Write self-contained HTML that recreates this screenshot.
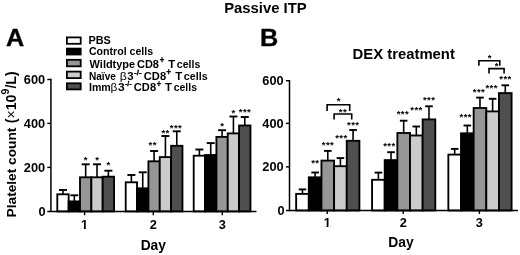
<!DOCTYPE html>
<html><head><meta charset="utf-8"><title>Passive ITP</title><style>
html,body{margin:0;padding:0;background:#fff;overflow:hidden}svg{display:block}
text{font-family:"Liberation Sans", sans-serif;fill:#000}
</style></head><body>
<svg width="520" height="255" viewBox="0 0 520 255">
<rect width="520" height="255" fill="#fff"/>
<defs><filter id="soft" x="0" y="0" width="520" height="255" filterUnits="userSpaceOnUse"><feGaussianBlur stdDeviation="0.35"/></filter></defs>
<g filter="url(#soft)">
<text transform="translate(265.40 12.80) scale(1.017 1)" font-size="14.6" font-weight="bold" text-anchor="middle">Passive ITP</text>
<text transform="translate(6.10 45.70) scale(1.03 1)" font-size="24.5" font-weight="bold" stroke="#000" stroke-width="0.35">A</text>
<text transform="translate(260.00 45.70) scale(1.03 1)" font-size="24.5" font-weight="bold" stroke="#000" stroke-width="0.35">B</text>
<text x="352.60" y="59.30" font-size="14.85" font-weight="bold">DEX treatment</text>
<rect x="66.90" y="37.40" width="13.80" height="6.40" fill="#ffffff" stroke="#000" stroke-width="1.8"/>
<rect x="66.90" y="48.60" width="13.80" height="5.90" fill="#000000" stroke="#000" stroke-width="1.8"/>
<rect x="66.90" y="59.80" width="13.80" height="6.50" fill="#969696" stroke="#000" stroke-width="1.8"/>
<rect x="66.90" y="71.60" width="13.80" height="6.50" fill="#cbcbcb" stroke="#000" stroke-width="1.8"/>
<rect x="66.90" y="83.30" width="13.80" height="6.10" fill="#505050" stroke="#000" stroke-width="1.8"/>
<text transform="translate(88.52 43.60) scale(1.056 1)" font-size="10.3" font-weight="bold">PBS</text>
<text transform="translate(88.97 55.10) scale(1.028 1)" font-size="10.3" font-weight="bold">Control cells</text>
<text transform="translate(89.60 67.60) scale(1.064 1)" font-size="10.3" font-weight="bold">Wildtype</text>
<text transform="translate(137.06 67.60) scale(1.064 1)" font-size="10.3" font-weight="bold">CD8</text>
<text transform="translate(159.86 63.05) scale(0.913 1)" font-size="8.5" font-weight="bold" stroke="#000" stroke-width="0.3">+</text>
<text transform="translate(168.30 67.60) scale(1.099 1)" font-size="10.3" font-weight="bold">T</text>
<text transform="translate(176.87 67.60) scale(1.024 1)" font-size="10.3" font-weight="bold">cells</text>
<text transform="translate(88.97 80.20) scale(0.982 1)" font-size="10.3" font-weight="bold">Naïve</text>
<text transform="translate(119.64 80.20) scale(1.183 1)" font-size="10.3">β</text>
<text transform="translate(127.32 80.20) scale(1.111 1)" font-size="10.3" font-weight="bold">3</text>
<text transform="translate(134.05 74.70) scale(1.175 1)" font-size="6.8" font-weight="bold" stroke="#000" stroke-width="0.3">-/-</text>
<text transform="translate(143.85 80.20) scale(1.079 1)" font-size="10.3" font-weight="bold">CD8</text>
<text transform="translate(166.35 75.40) scale(0.958 1)" font-size="8.5" font-weight="bold" stroke="#000" stroke-width="0.3">+</text>
<text transform="translate(175.30 80.20) scale(1.115 1)" font-size="10.3" font-weight="bold">T</text>
<text transform="translate(183.87 80.20) scale(1.037 1)" font-size="10.3" font-weight="bold">cells</text>
<text transform="translate(88.93 90.80) scale(1.035 1)" font-size="10.3" font-weight="bold">Imm</text>
<text transform="translate(110.46 90.80) scale(1.142 1)" font-size="10.3">β</text>
<text transform="translate(117.91 90.80) scale(1.167 1)" font-size="10.3" font-weight="bold">3</text>
<text transform="translate(124.88 85.50) scale(1.057 1)" font-size="6.8" font-weight="bold" stroke="#000" stroke-width="0.3">-/-</text>
<text transform="translate(133.85 90.80) scale(1.079 1)" font-size="10.3" font-weight="bold">CD8</text>
<text transform="translate(156.66 86.50) scale(0.89 1)" font-size="8.5" font-weight="bold" stroke="#000" stroke-width="0.3">+</text>
<text transform="translate(165.00 90.80) scale(1.099 1)" font-size="10.3" font-weight="bold">T</text>
<text transform="translate(173.67 90.80) scale(1.019 1)" font-size="10.3" font-weight="bold">cells</text>
<text transform="translate(15.5 217.4) rotate(-90)" font-size="13.7" font-weight="bold">Platelet count</text>
<text transform="translate(15.5 123.3) rotate(-90)" font-size="14.2" font-weight="bold">(<tspan font-weight="normal">×</tspan>10<tspan dy="-6.2" font-size="10.6">9</tspan><tspan dy="6.2">/L)</tspan></text>
<path d="M62.97 194.30V190.00" stroke="#000" stroke-width="1.6" fill="none"/><path d="M58.97 190.00H66.97" stroke="#000" stroke-width="1.9" fill="none"/>
<rect x="57.30" y="194.30" width="11.35" height="17.10" fill="#ffffff" stroke="#000" stroke-width="1.85"/>
<path d="M74.32 201.40V195.30" stroke="#000" stroke-width="1.6" fill="none"/><path d="M70.32 195.30H78.32" stroke="#000" stroke-width="1.9" fill="none"/>
<rect x="68.65" y="201.40" width="11.35" height="10.00" fill="#000000" stroke="#000" stroke-width="1.85"/>
<path d="M85.67 177.30V164.30" stroke="#000" stroke-width="1.6" fill="none"/><path d="M81.67 164.30H89.67" stroke="#000" stroke-width="1.9" fill="none"/>
<rect x="80.00" y="177.30" width="11.35" height="34.10" fill="#969696" stroke="#000" stroke-width="1.85"/>
<path d="M97.02 177.30V164.30" stroke="#000" stroke-width="1.6" fill="none"/><path d="M93.02 164.30H101.02" stroke="#000" stroke-width="1.9" fill="none"/>
<rect x="91.35" y="177.30" width="11.35" height="34.10" fill="#cbcbcb" stroke="#000" stroke-width="1.85"/>
<path d="M108.37 176.70V170.70" stroke="#000" stroke-width="1.6" fill="none"/><path d="M104.37 170.70H112.37" stroke="#000" stroke-width="1.9" fill="none"/>
<rect x="102.70" y="176.70" width="11.35" height="34.70" fill="#505050" stroke="#000" stroke-width="1.85"/>
<path d="M131.38 182.30V175.00" stroke="#000" stroke-width="1.6" fill="none"/><path d="M127.38 175.00H135.38" stroke="#000" stroke-width="1.9" fill="none"/>
<rect x="125.70" y="182.30" width="11.35" height="29.10" fill="#ffffff" stroke="#000" stroke-width="1.85"/>
<path d="M142.73 188.30V172.30" stroke="#000" stroke-width="1.6" fill="none"/><path d="M138.73 172.30H146.73" stroke="#000" stroke-width="1.9" fill="none"/>
<rect x="137.05" y="188.30" width="11.35" height="23.10" fill="#000000" stroke="#000" stroke-width="1.85"/>
<path d="M154.08 161.30V151.00" stroke="#000" stroke-width="1.6" fill="none"/><path d="M150.08 151.00H158.08" stroke="#000" stroke-width="1.9" fill="none"/>
<rect x="148.40" y="161.30" width="11.35" height="50.10" fill="#969696" stroke="#000" stroke-width="1.85"/>
<path d="M165.43 157.10V136.00" stroke="#000" stroke-width="1.6" fill="none"/><path d="M161.43 136.00H169.43" stroke="#000" stroke-width="1.9" fill="none"/>
<rect x="159.75" y="157.10" width="11.35" height="54.30" fill="#cbcbcb" stroke="#000" stroke-width="1.85"/>
<path d="M176.78 145.80V131.30" stroke="#000" stroke-width="1.6" fill="none"/><path d="M172.78 131.30H180.78" stroke="#000" stroke-width="1.9" fill="none"/>
<rect x="171.10" y="145.80" width="11.35" height="65.60" fill="#505050" stroke="#000" stroke-width="1.85"/>
<path d="M199.38 155.70V149.50" stroke="#000" stroke-width="1.6" fill="none"/><path d="M195.38 149.50H203.38" stroke="#000" stroke-width="1.9" fill="none"/>
<rect x="193.70" y="155.70" width="11.35" height="55.70" fill="#ffffff" stroke="#000" stroke-width="1.85"/>
<path d="M210.72 155.00V143.10" stroke="#000" stroke-width="1.6" fill="none"/><path d="M206.72 143.10H214.72" stroke="#000" stroke-width="1.9" fill="none"/>
<rect x="205.05" y="155.00" width="11.35" height="56.40" fill="#000000" stroke="#000" stroke-width="1.85"/>
<path d="M222.07 136.90V130.20" stroke="#000" stroke-width="1.6" fill="none"/><path d="M218.07 130.20H226.07" stroke="#000" stroke-width="1.9" fill="none"/>
<rect x="216.40" y="136.90" width="11.35" height="74.50" fill="#969696" stroke="#000" stroke-width="1.85"/>
<path d="M233.43 133.40V116.50" stroke="#000" stroke-width="1.6" fill="none"/><path d="M229.43 116.50H237.43" stroke="#000" stroke-width="1.9" fill="none"/>
<rect x="227.75" y="133.40" width="11.35" height="78.00" fill="#cbcbcb" stroke="#000" stroke-width="1.85"/>
<path d="M244.78 125.50V117.00" stroke="#000" stroke-width="1.6" fill="none"/><path d="M240.78 117.00H248.78" stroke="#000" stroke-width="1.9" fill="none"/>
<rect x="239.10" y="125.50" width="11.35" height="85.90" fill="#505050" stroke="#000" stroke-width="1.85"/>
<path d="M50.90 78.80V212.10" stroke="#000" stroke-width="1.5" fill="none"/>
<path d="M47.30 211.40H256.5" stroke="#000" stroke-width="1.5" fill="none"/>
<text transform="translate(45.60 215.85) scale(1.015 1)" font-size="12.6" font-weight="bold" text-anchor="end">0</text>
<path d="M47.30 167.40H50.90" stroke="#000" stroke-width="1.4" fill="none"/>
<text transform="translate(45.10 171.85) scale(1.015 1)" font-size="12.6" font-weight="bold" text-anchor="end">200</text>
<path d="M47.30 123.40H50.90" stroke="#000" stroke-width="1.4" fill="none"/>
<text transform="translate(45.10 127.85) scale(1.015 1)" font-size="12.6" font-weight="bold" text-anchor="end">400</text>
<path d="M47.30 79.50H50.90" stroke="#000" stroke-width="1.4" fill="none"/>
<text transform="translate(45.10 83.95) scale(1.015 1)" font-size="12.6" font-weight="bold" text-anchor="end">600</text>
<path d="M84.6 211.40V215.30" stroke="#000" stroke-width="1.4" fill="none"/>
<text transform="translate(84.60 228.50) scale(1.015 1)" font-size="12.6" font-weight="bold" text-anchor="middle">1</text>
<rect x="81.67" y="226.80" width="2.26" height="2.6" fill="#fff"/>
<rect x="85.88" y="226.80" width="2.19" height="2.6" fill="#fff"/>
<path d="M153.3 211.40V215.30" stroke="#000" stroke-width="1.4" fill="none"/>
<text transform="translate(153.30 228.50) scale(1.015 1)" font-size="12.6" font-weight="bold" text-anchor="middle">2</text>
<path d="M222.3 211.40V215.30" stroke="#000" stroke-width="1.4" fill="none"/>
<text transform="translate(222.30 228.50) scale(1.015 1)" font-size="12.6" font-weight="bold" text-anchor="middle">3</text>
<text x="153.30" y="249.60" font-size="13.8" font-weight="bold" text-anchor="middle">Day</text>
<text x="85.88" y="162.80" font-size="9.6" font-weight="bold" text-anchor="middle" letter-spacing="0.4">*</text>
<text x="97.23" y="162.80" font-size="9.6" font-weight="bold" text-anchor="middle" letter-spacing="0.4">*</text>
<text x="108.58" y="167.80" font-size="9.6" font-weight="bold" text-anchor="middle" letter-spacing="0.4">*</text>
<text x="152.67" y="148.00" font-size="9.6" font-weight="bold" text-anchor="middle" letter-spacing="0.4">**</text>
<text x="165.62" y="135.80" font-size="9.6" font-weight="bold" text-anchor="middle" letter-spacing="0.4">**</text>
<text x="175.97" y="130.90" font-size="9.6" font-weight="bold" text-anchor="middle" letter-spacing="0.4">***</text>
<text x="222.27" y="128.80" font-size="9.6" font-weight="bold" text-anchor="middle" letter-spacing="0.4">*</text>
<text x="233.62" y="115.90" font-size="9.6" font-weight="bold" text-anchor="middle" letter-spacing="0.4">*</text>
<text x="244.97" y="115.00" font-size="9.6" font-weight="bold" text-anchor="middle" letter-spacing="0.4">***</text>
<path d="M302.47 193.90V189.40" stroke="#000" stroke-width="1.6" fill="none"/><path d="M298.67 189.40H306.27" stroke="#000" stroke-width="1.9" fill="none"/>
<rect x="296.15" y="193.90" width="12.65" height="16.60" fill="#ffffff" stroke="#000" stroke-width="1.85"/>
<path d="M315.12 177.30V172.50" stroke="#000" stroke-width="1.6" fill="none"/><path d="M311.32 172.50H318.92" stroke="#000" stroke-width="1.9" fill="none"/>
<rect x="308.80" y="177.30" width="12.65" height="33.20" fill="#000000" stroke="#000" stroke-width="1.85"/>
<path d="M327.77 160.60V150.90" stroke="#000" stroke-width="1.6" fill="none"/><path d="M323.97 150.90H331.57" stroke="#000" stroke-width="1.9" fill="none"/>
<rect x="321.45" y="160.60" width="12.65" height="49.90" fill="#969696" stroke="#000" stroke-width="1.85"/>
<path d="M340.42 166.20V158.10" stroke="#000" stroke-width="1.6" fill="none"/><path d="M336.62 158.10H344.22" stroke="#000" stroke-width="1.9" fill="none"/>
<rect x="334.10" y="166.20" width="12.65" height="44.30" fill="#cbcbcb" stroke="#000" stroke-width="1.85"/>
<path d="M353.07 140.80V130.00" stroke="#000" stroke-width="1.6" fill="none"/><path d="M349.27 130.00H356.88" stroke="#000" stroke-width="1.9" fill="none"/>
<rect x="346.75" y="140.80" width="12.65" height="69.70" fill="#505050" stroke="#000" stroke-width="1.85"/>
<path d="M378.38 179.80V172.60" stroke="#000" stroke-width="1.6" fill="none"/><path d="M374.57 172.60H382.18" stroke="#000" stroke-width="1.9" fill="none"/>
<rect x="372.05" y="179.80" width="12.65" height="30.70" fill="#ffffff" stroke="#000" stroke-width="1.85"/>
<path d="M391.02 160.10V152.20" stroke="#000" stroke-width="1.6" fill="none"/><path d="M387.22 152.20H394.82" stroke="#000" stroke-width="1.9" fill="none"/>
<rect x="384.70" y="160.10" width="12.65" height="50.40" fill="#000000" stroke="#000" stroke-width="1.85"/>
<path d="M403.68 133.00V120.70" stroke="#000" stroke-width="1.6" fill="none"/><path d="M399.88 120.70H407.48" stroke="#000" stroke-width="1.9" fill="none"/>
<rect x="397.35" y="133.00" width="12.65" height="77.50" fill="#969696" stroke="#000" stroke-width="1.85"/>
<path d="M416.32 135.50V126.50" stroke="#000" stroke-width="1.6" fill="none"/><path d="M412.52 126.50H420.12" stroke="#000" stroke-width="1.9" fill="none"/>
<rect x="410.00" y="135.50" width="12.65" height="75.00" fill="#cbcbcb" stroke="#000" stroke-width="1.85"/>
<path d="M428.98 119.40V106.30" stroke="#000" stroke-width="1.6" fill="none"/><path d="M425.18 106.30H432.78" stroke="#000" stroke-width="1.9" fill="none"/>
<rect x="422.65" y="119.40" width="12.65" height="91.10" fill="#505050" stroke="#000" stroke-width="1.85"/>
<path d="M454.68 154.60V148.90" stroke="#000" stroke-width="1.6" fill="none"/><path d="M450.88 148.90H458.48" stroke="#000" stroke-width="1.9" fill="none"/>
<rect x="448.35" y="154.60" width="12.65" height="55.90" fill="#ffffff" stroke="#000" stroke-width="1.85"/>
<path d="M467.32 133.30V125.50" stroke="#000" stroke-width="1.6" fill="none"/><path d="M463.52 125.50H471.12" stroke="#000" stroke-width="1.9" fill="none"/>
<rect x="461.00" y="133.30" width="12.65" height="77.20" fill="#000000" stroke="#000" stroke-width="1.85"/>
<path d="M479.98 108.00V97.60" stroke="#000" stroke-width="1.6" fill="none"/><path d="M476.18 97.60H483.78" stroke="#000" stroke-width="1.9" fill="none"/>
<rect x="473.65" y="108.00" width="12.65" height="102.50" fill="#969696" stroke="#000" stroke-width="1.85"/>
<path d="M492.62 111.40V98.80" stroke="#000" stroke-width="1.6" fill="none"/><path d="M488.82 98.80H496.43" stroke="#000" stroke-width="1.9" fill="none"/>
<rect x="486.30" y="111.40" width="12.65" height="99.10" fill="#cbcbcb" stroke="#000" stroke-width="1.85"/>
<path d="M505.28 93.10V85.30" stroke="#000" stroke-width="1.6" fill="none"/><path d="M501.48 85.30H509.08" stroke="#000" stroke-width="1.9" fill="none"/>
<rect x="498.95" y="93.10" width="12.65" height="117.40" fill="#505050" stroke="#000" stroke-width="1.85"/>
<path d="M289.50 80.00V211.30" stroke="#000" stroke-width="1.5" fill="none"/>
<path d="M285.90 210.60H518" stroke="#000" stroke-width="1.5" fill="none"/>
<text transform="translate(284.70 215.05) scale(1.015 1)" font-size="12.6" font-weight="bold" text-anchor="end">0</text>
<path d="M285.90 166.90H289.50" stroke="#000" stroke-width="1.4" fill="none"/>
<text transform="translate(283.70 171.35) scale(1.015 1)" font-size="12.6" font-weight="bold" text-anchor="end">200</text>
<path d="M285.90 123.40H289.50" stroke="#000" stroke-width="1.4" fill="none"/>
<text transform="translate(283.70 127.85) scale(1.015 1)" font-size="12.6" font-weight="bold" text-anchor="end">400</text>
<path d="M285.90 80.70H289.50" stroke="#000" stroke-width="1.4" fill="none"/>
<text transform="translate(283.70 85.15) scale(1.015 1)" font-size="12.6" font-weight="bold" text-anchor="end">600</text>
<path d="M327.2 210.60V213.90" stroke="#000" stroke-width="1.4" fill="none"/>
<text transform="translate(327.20 226.90) scale(1.015 1)" font-size="12.6" font-weight="bold" text-anchor="middle">1</text>
<rect x="324.27" y="225.20" width="2.26" height="2.6" fill="#fff"/>
<rect x="328.48" y="225.20" width="2.19" height="2.6" fill="#fff"/>
<path d="M403.2 210.60V213.90" stroke="#000" stroke-width="1.4" fill="none"/>
<text transform="translate(403.20 226.90) scale(1.015 1)" font-size="12.6" font-weight="bold" text-anchor="middle">2</text>
<path d="M479.4 210.60V213.90" stroke="#000" stroke-width="1.4" fill="none"/>
<text transform="translate(479.40 226.90) scale(1.015 1)" font-size="12.6" font-weight="bold" text-anchor="middle">3</text>
<text x="401.00" y="247.20" font-size="13.8" font-weight="bold" text-anchor="middle">Day</text>
<text x="315.32" y="165.50" font-size="9.6" font-weight="bold" text-anchor="middle" letter-spacing="0.4">**</text>
<text x="327.97" y="147.50" font-size="9.6" font-weight="bold" text-anchor="middle" letter-spacing="0.4">***</text>
<text x="341.42" y="141.10" font-size="9.6" font-weight="bold" text-anchor="middle" letter-spacing="0.4">***</text>
<text x="353.27" y="127.50" font-size="9.6" font-weight="bold" text-anchor="middle" letter-spacing="0.4">***</text>
<text x="389.33" y="149.20" font-size="9.6" font-weight="bold" text-anchor="middle" letter-spacing="0.4">***</text>
<text x="402.88" y="116.90" font-size="9.6" font-weight="bold" text-anchor="middle" letter-spacing="0.4">***</text>
<text x="416.52" y="112.90" font-size="9.6" font-weight="bold" text-anchor="middle" letter-spacing="0.4">***</text>
<text x="429.18" y="102.90" font-size="9.6" font-weight="bold" text-anchor="middle" letter-spacing="0.4">***</text>
<text x="465.73" y="119.90" font-size="9.6" font-weight="bold" text-anchor="middle" letter-spacing="0.4">***</text>
<text x="478.98" y="94.50" font-size="9.6" font-weight="bold" text-anchor="middle" letter-spacing="0.4">***</text>
<text x="491.62" y="91.40" font-size="9.6" font-weight="bold" text-anchor="middle" letter-spacing="0.4">***</text>
<text x="505.48" y="81.60" font-size="9.6" font-weight="bold" text-anchor="middle" letter-spacing="0.4">***</text>
<path d="M327.1 111.0V104.7H349.7V111.0" stroke="#000" stroke-width="1.6" fill="none"/>
<text x="338.70" y="103.90" font-size="9.6" font-weight="bold" text-anchor="middle" letter-spacing="0.4">*</text>
<path d="M334.1 119.5V114H351.7V119.5" stroke="#000" stroke-width="1.6" fill="none"/>
<text x="343.00" y="114.50" font-size="9.6" font-weight="bold" text-anchor="middle" letter-spacing="0.4">**</text>
<path d="M478.9 65.8V60.8H499.8V65.8" stroke="#000" stroke-width="1.6" fill="none"/>
<text x="489.80" y="60.50" font-size="9.6" font-weight="bold" text-anchor="middle" letter-spacing="0.4">*</text>
<path d="M489 73.4V68.6H504.1V73.4" stroke="#000" stroke-width="1.6" fill="none"/>
<text x="496.80" y="68.50" font-size="9.6" font-weight="bold" text-anchor="middle" letter-spacing="0.4">*</text>
</g>
</svg></body></html>
